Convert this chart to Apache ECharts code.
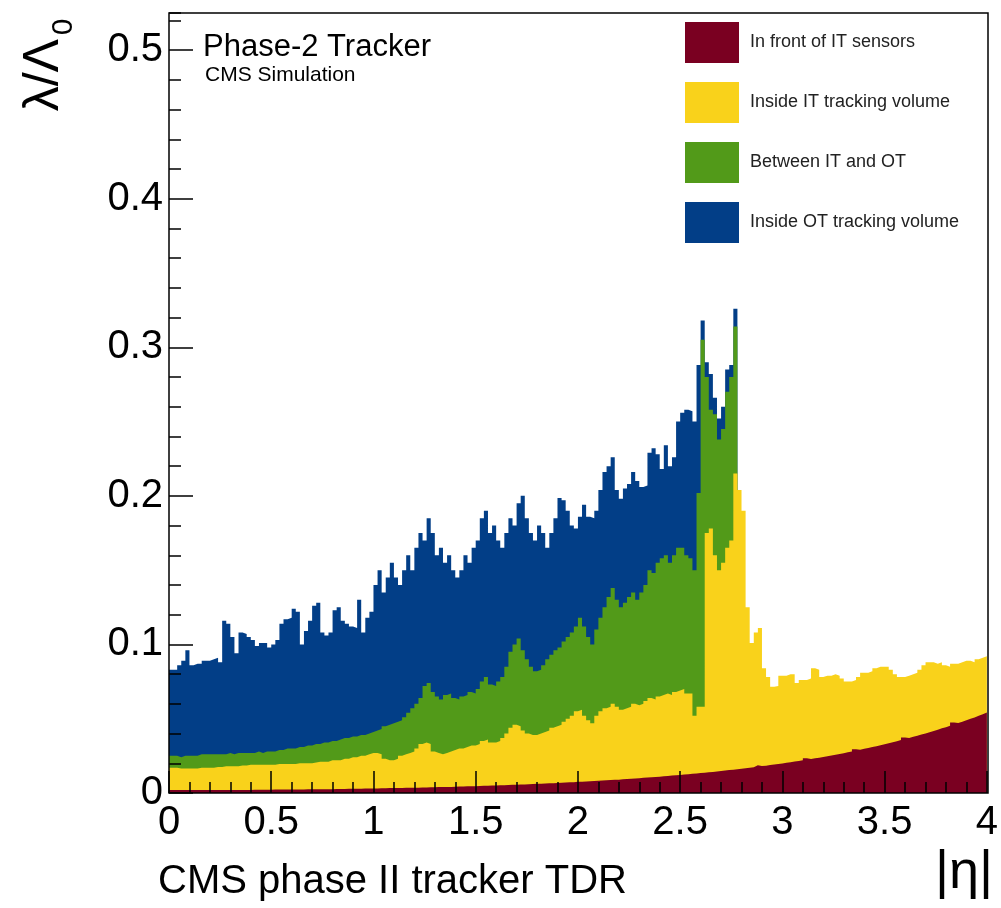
<!DOCTYPE html>
<html>
<head>
<meta charset="utf-8">
<script src="https://cdn.jsdelivr.net/npm/echarts@6/dist/echarts.min.js"></script>
<style>
  html, body { margin: 0; padding: 0; background: #ffffff; }
  #chart { width: 1001px; height: 908px; }
</style>
</head>
<body>
<div id="chart"></div>
<script>
// Histogram binning in |eta|
const ETA_MIN = 0;
const ETA_MAX = 4;
const BIN_WIDTH = 0.02;

// Axis tick values
const xTicks = [0, 0.5, 1, 1.5, 2, 2.5, 3, 3.5, 4];
const yTicks = [0, 0.1, 0.2, 0.3, 0.4, 0.5];

// Legend entries, bottom layer first
const categories = [
  'In front of IT sensors',
  'Inside IT tracking volume',
  'Between IT and OT',
  'Inside OT tracking volume'
];

// Cumulative lambda/lambda0 at the top of each layer, one value per bin.
// Material in front of the IT sensors (bottom layer)
const topFrontOfIT = [
  0.0020,0.0020,0.0020,0.0020,0.0020,0.0020,0.0020,0.0020,0.0020,0.0020,
  0.0020,0.0020,0.0020,0.0021,0.0021,0.0021,0.0021,0.0021,0.0021,0.0021,
  0.0022,0.0022,0.0022,0.0022,0.0022,0.0023,0.0023,0.0023,0.0023,0.0024,
  0.0024,0.0024,0.0024,0.0025,0.0025,0.0025,0.0025,0.0026,0.0026,0.0026,
  0.0027,0.0027,0.0027,0.0028,0.0028,0.0029,0.0029,0.0030,0.0030,0.0031,
  0.0031,0.0032,0.0032,0.0033,0.0033,0.0034,0.0034,0.0035,0.0035,0.0036,
  0.0036,0.0037,0.0037,0.0038,0.0039,0.0040,0.0040,0.0041,0.0041,0.0042,
  0.0043,0.0044,0.0045,0.0045,0.0046,0.0047,0.0048,0.0049,0.0050,0.0051,
  0.0052,0.0053,0.0054,0.0055,0.0056,0.0057,0.0058,0.0059,0.0060,0.0062,
  0.0063,0.0064,0.0065,0.0066,0.0068,0.0069,0.0070,0.0072,0.0073,0.0075,
  0.0076,0.0077,0.0079,0.0080,0.0082,0.0084,0.0085,0.0087,0.0089,0.0090,
  0.0092,0.0094,0.0096,0.0098,0.0100,0.0102,0.0104,0.0106,0.0108,0.0110,
  0.0112,0.0114,0.0117,0.0119,0.0121,0.0124,0.0126,0.0129,0.0131,0.0134,
  0.0137,0.0139,0.0142,0.0145,0.0148,0.0151,0.0154,0.0157,0.0160,0.0164,
  0.0167,0.0170,0.0174,0.0187,0.0181,0.0184,0.0188,0.0192,0.0195,0.0199,
  0.0203,0.0207,0.0212,0.0216,0.0220,0.0234,0.0229,0.0234,0.0238,0.0243,
  0.0248,0.0253,0.0258,0.0263,0.0268,0.0274,0.0279,0.0295,0.0291,0.0297,
  0.0303,0.0309,0.0315,0.0322,0.0328,0.0335,0.0342,0.0348,0.0356,0.0373,
  0.0370,0.0378,0.0385,0.0393,0.0401,0.0409,0.0418,0.0426,0.0435,0.0443,
  0.0452,0.0474,0.0471,0.0480,0.0490,0.0499,0.0509,0.0520,0.0530,0.0541
];

// Up to the top of the IT tracking volume
const topInsideIT = [
  0.017,0.017,0.0165,0.0165,0.0165,0.0165,0.0165,0.017,0.017,0.017,
  0.017,0.0175,0.0175,0.018,0.018,0.018,0.018,0.0185,0.0185,0.019,
  0.019,0.019,0.019,0.019,0.019,0.019,0.0195,0.0195,0.0195,0.0195,
  0.0195,0.020,0.020,0.020,0.020,0.0205,0.021,0.021,0.021,0.022,
  0.022,0.022,0.023,0.023,0.024,0.024,0.025,0.025,0.026,0.027,
  0.027,0.026,0.023,0.022,0.022,0.023,0.025,0.026,0.027,0.028,
  0.030,0.033,0.034,0.033,0.028,0.027,0.026,0.027,0.028,0.029,
  0.030,0.030,0.031,0.032,0.032,0.033,0.035,0.036,0.034,0.034,
  0.035,0.037,0.040,0.044,0.046,0.045,0.042,0.040,0.039,0.039,
  0.040,0.041,0.042,0.044,0.045,0.046,0.048,0.050,0.052,0.055,
  0.056,0.052,0.049,0.047,0.052,0.055,0.057,0.058,0.060,0.058,
  0.056,0.057,0.058,0.060,0.059,0.060,0.062,0.064,0.063,0.065,
  0.066,0.067,0.066,0.068,0.069,0.070,0.067,0.067,0.052,0.058,
  0.058,0.175,0.178,0.160,0.150,0.155,0.165,0.170,0.215,0.204,
  0.190,0.125,0.101,0.108,0.111,0.084,0.078,0.0715,0.072,0.079,
  0.079,0.080,0.080,0.074,0.076,0.076,0.077,0.084,0.083,0.078,
  0.079,0.079,0.080,0.079,0.077,0.075,0.075,0.076,0.078,0.081,
  0.081,0.082,0.084,0.085,0.085,0.085,0.083,0.080,0.078,0.078,
  0.079,0.080,0.081,0.083,0.086,0.088,0.088,0.087,0.088,0.086,
  0.085,0.087,0.087,0.088,0.089,0.089,0.088,0.090,0.091,0.092
];

// Up to the inner edge of the OT (no contribution beyond |eta| = 2.78)
const topBetweenITOT = [
  0.025,0.025,0.024,0.025,0.025,0.025,0.025,0.026,0.026,0.026,
  0.026,0.026,0.026,0.026,0.027,0.026,0.027,0.027,0.027,0.027,
  0.027,0.028,0.027,0.028,0.028,0.028,0.029,0.029,0.030,0.030,
  0.030,0.031,0.031,0.032,0.032,0.033,0.033,0.034,0.034,0.035,
  0.035,0.036,0.037,0.037,0.038,0.038,0.039,0.039,0.040,0.041,
  0.042,0.043,0.045,0.046,0.047,0.048,0.049,0.051,0.054,0.057,
  0.060,0.064,0.072,0.074,0.068,0.065,0.063,0.066,0.067,0.064,
  0.063,0.065,0.066,0.068,0.067,0.070,0.075,0.078,0.073,0.072,
  0.075,0.078,0.085,0.095,0.100,0.104,0.096,0.090,0.085,0.082,
  0.083,0.086,0.090,0.093,0.096,0.098,0.102,0.105,0.108,0.112,
  0.118,0.112,0.105,0.100,0.110,0.118,0.125,0.132,0.138,0.130,
  0.125,0.128,0.132,0.135,0.130,0.135,0.140,0.150,0.148,0.155,
  0.158,0.160,0.155,0.160,0.165,0.165,0.160,0.158,0.150,0.202,
  0.305,0.280,0.258,0.255,0.238,0.245,0.270,0.280,0.314
];

// Total, up to the top of the OT tracking volume
const topInsideOT = [
  0.083,0.083,0.086,0.089,0.096,0.086,0.087,0.087,0.089,0.089,
  0.090,0.091,0.088,0.116,0.114,0.105,0.094,0.108,0.107,0.105,
  0.103,0.099,0.101,0.101,0.098,0.100,0.103,0.114,0.117,0.118,
  0.124,0.122,0.100,0.109,0.116,0.126,0.128,0.108,0.106,0.108,
  0.123,0.125,0.116,0.114,0.112,0.111,0.130,0.108,0.118,0.122,
  0.140,0.150,0.135,0.145,0.155,0.145,0.140,0.150,0.160,0.150,
  0.165,0.175,0.170,0.185,0.175,0.160,0.165,0.155,0.160,0.150,
  0.145,0.150,0.160,0.155,0.165,0.170,0.185,0.190,0.175,0.180,
  0.170,0.165,0.175,0.185,0.180,0.195,0.200,0.185,0.175,0.170,
  0.180,0.175,0.165,0.175,0.185,0.1985,0.197,0.190,0.180,0.178,
  0.186,0.194,0.186,0.185,0.190,0.204,0.216,0.220,0.226,0.204,
  0.198,0.205,0.208,0.216,0.210,0.206,0.207,0.229,0.232,0.228,
  0.218,0.234,0.220,0.226,0.250,0.256,0.258,0.257,0.250,0.288,
  0.318,0.290,0.282,0.266,0.252,0.260,0.285,0.288,0.326
];

const COLORS = {
  front: '#7a0021',
  insideIT: '#f9d21b',
  between: '#529a19',
  insideOT: '#023e87'
};
const FONT = '"Liberation Sans", Arial, Helvetica, sans-serif';

// Turn per-bin values into step points: left bin edges plus the closing right edge
function histPoints(values) {
  const pts = values.map((v, i) => [+(ETA_MIN + i * BIN_WIDTH).toFixed(4), v]);
  pts.push([+(ETA_MIN + values.length * BIN_WIDTH).toFixed(4), values[values.length - 1]]);
  return pts;
}

function layer(name, values, color, z) {
  return {
    type: 'line',
    name: name,
    data: histPoints(values),
    step: 'end',
    symbol: 'none',
    showSymbol: false,
    color: color,
    itemStyle: { color: color },
    lineStyle: { width: 0, opacity: 0 },
    areaStyle: { color: color, opacity: 1 },
    silent: true,
    z: z
  };
}

const chart = echarts.init(document.getElementById('chart'), null, { renderer: 'canvas' });

const gridBox = { left: 169, top: 13, width: 819, height: 780 };

const tickStyle = { color: '#000', width: 1.5 };

chart.setOption({
  animation: false,
  backgroundColor: '#ffffff',
  grid: { left: gridBox.left, top: gridBox.top, width: gridBox.width, height: gridBox.height, show: false },
  xAxis: {
    type: 'value',
    z: 20,
    min: ETA_MIN,
    max: ETA_MAX,
    interval: xTicks[1] - xTicks[0],
    axisLine: { show: false },
    axisTick: { show: true, inside: true, length: 22, lineStyle: tickStyle },
    minorTick: { show: true, splitNumber: 5, length: 11, lineStyle: tickStyle },
    splitLine: { show: false },
    minorSplitLine: { show: false },
    axisLabel: {
      fontSize: 40, fontFamily: FONT, color: '#000', margin: 10,
      showMinLabel: true, showMaxLabel: true,
      formatter: v => String(v)
    }
  },
  yAxis: [
    {
      type: 'value',
      z: 20,
      min: 0,
      max: 0.525,
      interval: yTicks[1] - yTicks[0],
      axisLine: { show: false },
      axisTick: { show: true, inside: true, length: 24, lineStyle: tickStyle },
      splitLine: { show: false },
      axisLabel: {
        fontSize: 40, fontFamily: FONT, color: '#000', margin: 6,
        showMaxLabel: false,
        formatter: v => String(+v.toFixed(2))
      }
    },
    {
      type: 'value',
      z: 20,
      min: 0,
      max: 0.525,
      interval: 0.02,
      position: 'left',
      axisLine: { show: false },
      axisTick: { show: true, inside: true, length: 12, lineStyle: tickStyle },
      splitLine: { show: false },
      axisLabel: { show: false }
    }
  ],
  legend: {
    data: categories,
    orient: 'vertical',
    left: 685,
    top: 22,
    padding: 0,
    itemWidth: 54,
    itemHeight: 41,
    itemGap: 19,
    icon: 'rect',
    selectedMode: false,
    textStyle: { fontSize: 18, fontFamily: FONT, color: '#222', padding: [0, 0, 0, 6] }
  },
  series: [
    layer(categories[3], topInsideOT, COLORS.insideOT, 2),
    layer(categories[2], topBetweenITOT, COLORS.between, 3),
    layer(categories[1], topInsideIT, COLORS.insideIT, 4),
    layer(categories[0], topFrontOfIT, COLORS.front, 5)
  ],
  graphic: [
    {
      type: 'rect', z: 100, silent: true,
      shape: { x: gridBox.left, y: gridBox.top, width: gridBox.width, height: gridBox.height },
      style: { fill: 'none', stroke: '#000', lineWidth: 1.5 }
    },
    {
      type: 'text', z: 100, left: 203, top: 32,
      style: { text: 'Phase-2 Tracker', font: '31px ' + FONT, fill: '#000' }
    },
    {
      type: 'text', z: 100, left: 205, top: 65,
      style: { text: 'CMS Simulation', font: '21px ' + FONT, fill: '#000' }
    },
    {
      type: 'text', z: 100, left: 158, top: 862,
      style: { text: 'CMS phase II tracker TDR', font: '40px ' + FONT, fill: '#000' }
    },
    {
      type: 'text', z: 100, x: 993, y: 873,
      style: { text: '|\u03b7|', font: '54px ' + FONT, fill: '#000', textAlign: 'right', textVerticalAlign: 'middle' }
    },
    {
      type: 'text', z: 100, x: 44, y: 39, rotation: Math.PI / 2,
      style: { text: '\u03bb/\u039b', font: '50px ' + FONT, fill: '#000', textAlign: 'right', textVerticalAlign: 'middle' }
    },
    {
      type: 'text', z: 100, x: 64, y: 27, rotation: Math.PI / 2,
      style: { text: '0', font: '30px ' + FONT, fill: '#000', textAlign: 'center', textVerticalAlign: 'middle' }
    }
  ]
});
</script>
</body>
</html>
